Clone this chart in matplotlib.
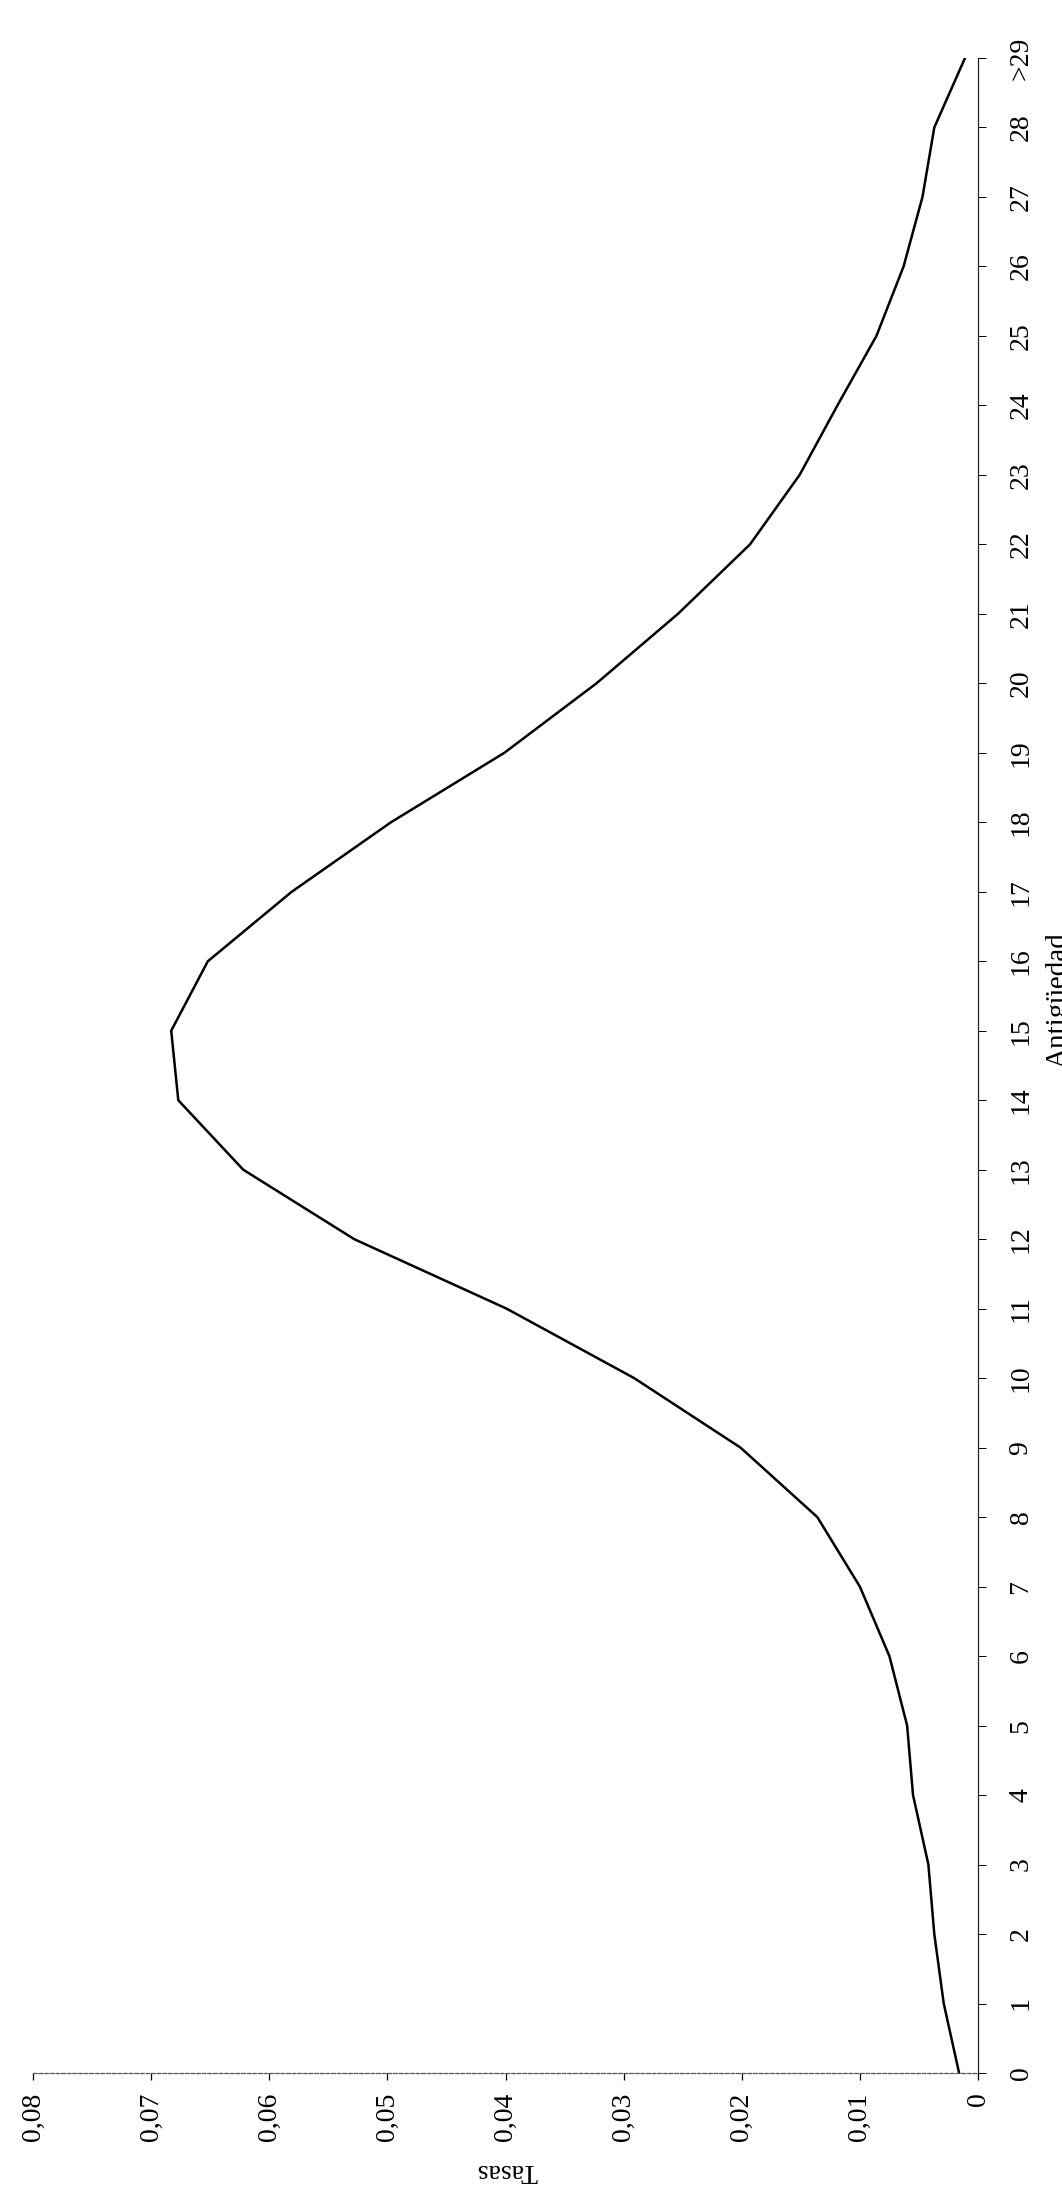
import matplotlib
matplotlib.use("Agg")
import matplotlib.pyplot as plt

plt.rcParams['font.family'] = ['Liberation Serif', 'DejaVu Serif']

# Antigüedad (years) and rates
antiguedad = list(range(30))
antiguedad_labels = [str(i) for i in range(29)] + ['>29']
tasas = [0.0016, 0.0029, 0.0037, 0.0042, 0.0055, 0.0060, 0.0075, 0.0100,
         0.0136, 0.0201, 0.0291, 0.0399, 0.0528, 0.0622, 0.0677, 0.0683,
         0.0652, 0.0581, 0.0497, 0.0401, 0.0323, 0.0254, 0.0193, 0.0151,
         0.0119, 0.0086, 0.0063, 0.0047, 0.0037, 0.0011]
tasas_ticks = [0.08, 0.07, 0.06, 0.05, 0.04, 0.03, 0.02, 0.01, 0.0]
tasas_tick_labels = ['0,08', '0,07', '0,06', '0,05', '0,04', '0,03', '0,02', '0,01', '0']

W, H = 1062, 2192
fig = plt.figure(figsize=(W / 100, H / 100), dpi=100)

# page is rotated: rates run right-to-left, seniority bottom-to-top
left, right = 33 / W, 978 / W
bottom, top = 1 - 2073 / H, 1 - 58 / H
ax = fig.add_axes([left, bottom, right - left, top - bottom])

ax.plot(tasas, antiguedad, color='black', linewidth=1.8)

ax.set_xlim(0.08, 0.0)
ax.set_ylim(0, 29)

ax.spines['top'].set_visible(False)
ax.spines['left'].set_visible(False)
ax.spines['bottom'].set_color('#555555')
ax.spines['bottom'].set_linewidth(0.9)
ax.spines['bottom'].set_linestyle((0, (3, 1.5)))
ax.spines['right'].set_color('#222222')
ax.spines['right'].set_linewidth(0.9)

ax.set_xticks(tasas_ticks)
ax.set_xticklabels(tasas_tick_labels, rotation=90, fontsize=20)
ax.tick_params(axis='x', direction='out', length=5, width=0.9, pad=9,
               colors='black')

ax.yaxis.tick_right()
ax.set_yticks(antiguedad)
ax.set_yticklabels(antiguedad_labels, rotation=90, fontsize=20, va='center')
ax.tick_params(axis='y', direction='out', length=6, width=0.7, pad=16,
               colors='black')

fig.text(507 / W, 1 - 2170 / H, 'Tasas', rotation=180, fontsize=20,
         ha='center', va='center')
fig.text(1046 / W, 1 - 1000 / H, 'Antigüedad', rotation=90, fontsize=21,
         ha='left', va='center')

fig.savefig('out.png', dpi=100)
